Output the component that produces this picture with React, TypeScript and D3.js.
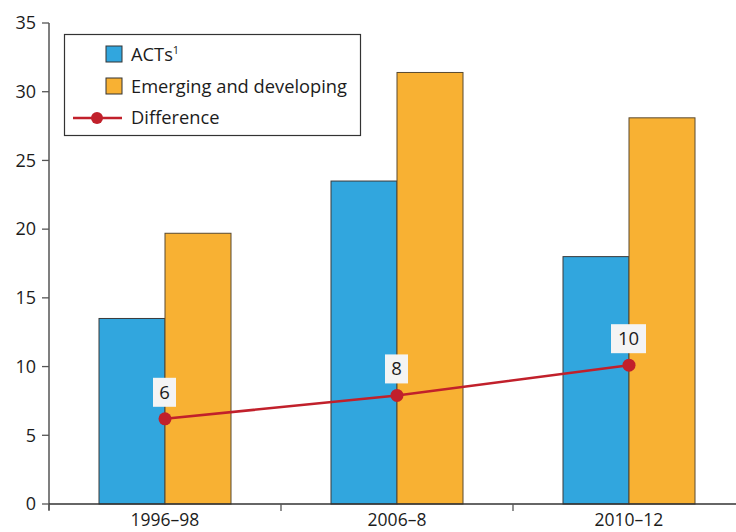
import React from 'react';
import * as d3 from 'd3';

const categories = ['1996–98', '2006–8', '2010–12'];
const acts = [13.5, 23.5, 18.0];
const emerging = [19.7, 31.4, 28.1];
const difference = [6.2, 7.9, 10.1];
const differenceLabels = ['6', '8', '10'];
const yTicks = [0, 5, 10, 15, 20, 25, 30, 35];

const WIDTH = 736;
const HEIGHT = 532;
const LEFT = 49;
const TOP = 23;
const BOTTOM = 504;
const BAND = 232;

const BLUE = '#31a6de';
const ORANGE = '#f8b133';
const RED = '#c1202b';
const FONT = '"Open Sans", Lato, sans-serif';
const TEXT = '#1c1c1c';

const App = () => {
  const xScale = d3.scaleBand<string>()
    .domain(categories)
    .range([LEFT, LEFT + BAND * categories.length])
    .paddingInner(0)
    .paddingOuter(0);
  const inner = d3.scaleBand<string>()
    .domain(['acts', 'emerging'])
    .range([50, BAND - 50]);
  const yScale = d3.scaleLinear()
    .domain([0, 35])
    .range([BOTTOM, TOP]);

  const cx = (i: number) => (xScale(categories[i]) as number) + xScale.bandwidth() / 2;

  const line = d3.line<number>()
    .x((_, i) => cx(i))
    .y(d => yScale(d));

  return (
    <svg
      width={WIDTH}
      height={HEIGHT}
      style={{ position: 'absolute', left: 0, top: 0, background: '#fff' }}
      fontFamily={FONT}
    >
      {categories.map((c, i) => {
        const x0 = xScale(c) as number;
        return (
          <g key={c}>
            <rect
              x={x0 + (inner('acts') as number)}
              y={yScale(acts[i])}
              width={inner.bandwidth()}
              height={BOTTOM - yScale(acts[i])}
              fill={BLUE}
              stroke="#3a3a3a"
              strokeWidth={1}
            />
            <rect
              x={x0 + (inner('emerging') as number)}
              y={yScale(emerging[i])}
              width={inner.bandwidth()}
              height={BOTTOM - yScale(emerging[i])}
              fill={ORANGE}
              stroke="#5a4a30"
              strokeWidth={1}
            />
          </g>
        );
      })}

      {/* y axis */}
      <line x1={LEFT} x2={LEFT} y1={TOP} y2={BOTTOM + 6} stroke="#555" strokeWidth={1.5} />
      {yTicks.map(t => (
        <g key={t} transform={`translate(0,${yScale(t)})`}>
          <line x1={LEFT - 7} x2={LEFT} stroke="#555" strokeWidth={1.3} />
          <text x={LEFT - 13} dy="0.35em" textAnchor="end" fontSize={18} fill={TEXT}>{t}</text>
        </g>
      ))}

      {/* x axis */}
      <line x1={LEFT} x2={WIDTH} y1={BOTTOM} y2={BOTTOM} stroke="#333" strokeWidth={1.5} />
      {categories.map((c, i) => (
        <g key={c}>
          <line
            x1={xScale(c) as number}
            x2={xScale(c) as number}
            y1={BOTTOM}
            y2={BOTTOM + 7}
            stroke="#555"
            strokeWidth={1.3}
          />
          <text x={cx(i)} y={BOTTOM + 22} textAnchor="middle" fontSize={17.5} fill={TEXT}>{c}</text>
        </g>
      ))}

      {/* difference line */}
      <path d={line(difference) as string} fill="none" stroke={RED} strokeWidth={2.5} />
      {difference.map((d, i) => (
        <g key={i}>
          <circle cx={cx(i)} cy={yScale(d)} r={6.5} fill={RED} />
          <rect
            x={cx(i) - (differenceLabels[i].length > 1 ? 18 : 12)}
            y={yScale(d) - 41}
            width={differenceLabels[i].length > 1 ? 35 : 23}
            height={29}
            fill="#f4f4f4"
          />
          <text x={cx(i) - 0.5} y={yScale(d) - 20} textAnchor="middle" fontSize={18.5} fill={TEXT}>
            {differenceLabels[i]}
          </text>
        </g>
      ))}

      {/* legend */}
      <g>
        <rect x={64.5} y={34.5} width={296} height={101} fill="#fff" stroke="#333" strokeWidth={1.2} />
        <rect x={106} y={46} width={16} height={16} fill={BLUE} stroke="#333" strokeWidth={1} />
        <text x={131} y={61} fontSize={18.3} fill={TEXT}>
          ACTs<tspan fontSize={11} dy={-7}>1</tspan>
        </text>
        <rect x={106} y={78} width={16} height={16} fill={ORANGE} stroke="#333" strokeWidth={1} />
        <text x={131} y={93} fontSize={18.3} fill={TEXT}>Emerging and developing</text>
        <line x1={73} x2={122} y1={118} y2={118} stroke={RED} strokeWidth={2.5} />
        <circle cx={97} cy={118} r={6} fill={RED} />
        <text x={131} y={124} fontSize={18.3} fill={TEXT}>Difference</text>
      </g>
    </svg>
  );
};

export default App;
